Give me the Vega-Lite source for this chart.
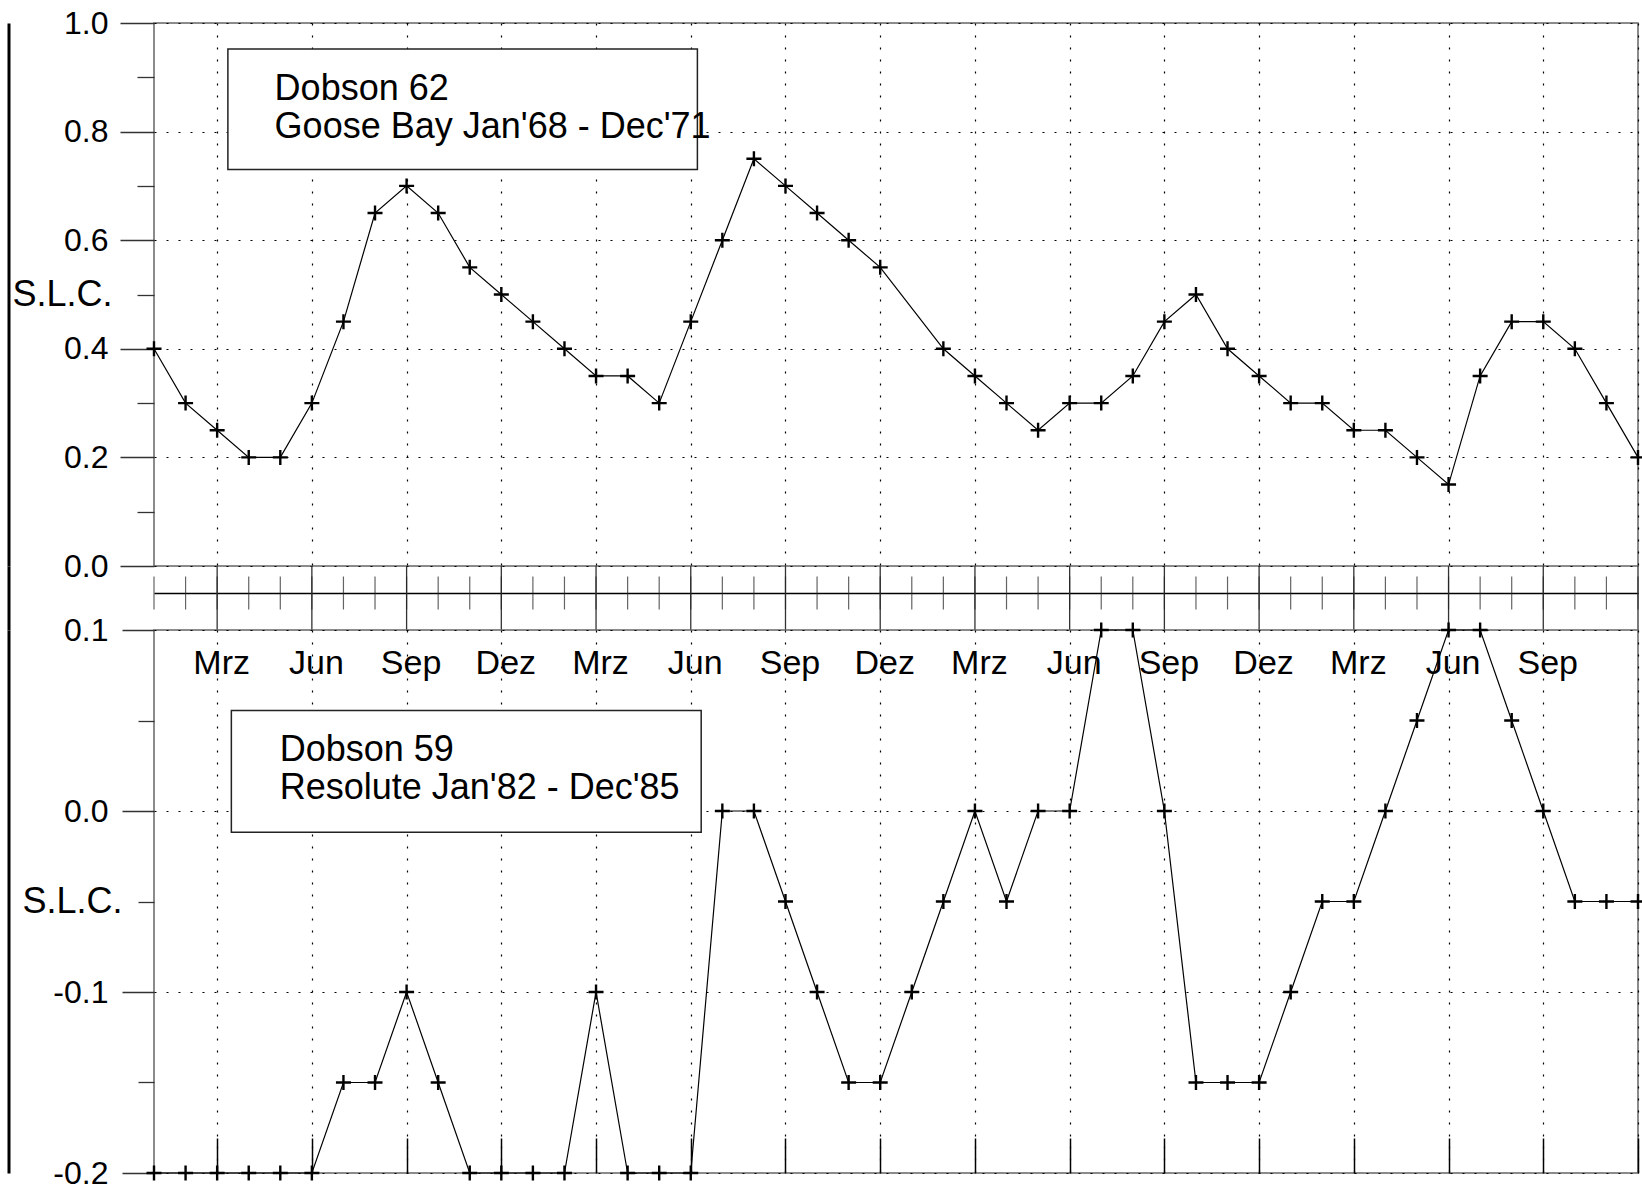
{
  "$schema": "https://vega.github.io/schema/vega-lite/v6.json",
  "padding": {"left": 7, "top": 6, "right": 0, "bottom": 0},
  "spacing": 0,
  "bounds": "flush",
  "config": {
    "font": "Liberation Sans",
    "view": {"stroke": "#666", "strokeWidth": 1.5},
    "axis": {"labelColor": "#000", "titleColor": "#000"}
  },
  "datasets": {
    "goose": [
      {"i": 0, "slc": 0.40}, {"i": 1, "slc": 0.30}, {"i": 2, "slc": 0.25}, {"i": 3, "slc": 0.20},
      {"i": 4, "slc": 0.20}, {"i": 5, "slc": 0.30}, {"i": 6, "slc": 0.45}, {"i": 7, "slc": 0.65},
      {"i": 8, "slc": 0.70}, {"i": 9, "slc": 0.65}, {"i": 10, "slc": 0.55}, {"i": 11, "slc": 0.50},
      {"i": 12, "slc": 0.45}, {"i": 13, "slc": 0.40}, {"i": 14, "slc": 0.35}, {"i": 15, "slc": 0.35},
      {"i": 16, "slc": 0.30}, {"i": 17, "slc": 0.45}, {"i": 18, "slc": 0.60}, {"i": 19, "slc": 0.75},
      {"i": 20, "slc": 0.70}, {"i": 21, "slc": 0.65}, {"i": 22, "slc": 0.60}, {"i": 23, "slc": 0.55},
      {"i": 25, "slc": 0.40}, {"i": 26, "slc": 0.35}, {"i": 27, "slc": 0.30},
      {"i": 28, "slc": 0.25}, {"i": 29, "slc": 0.30}, {"i": 30, "slc": 0.30}, {"i": 31, "slc": 0.35},
      {"i": 32, "slc": 0.45}, {"i": 33, "slc": 0.50}, {"i": 34, "slc": 0.40}, {"i": 35, "slc": 0.35},
      {"i": 36, "slc": 0.30}, {"i": 37, "slc": 0.30}, {"i": 38, "slc": 0.25}, {"i": 39, "slc": 0.25},
      {"i": 40, "slc": 0.20}, {"i": 41, "slc": 0.15}, {"i": 42, "slc": 0.35}, {"i": 43, "slc": 0.45},
      {"i": 44, "slc": 0.45}, {"i": 45, "slc": 0.40}, {"i": 46, "slc": 0.30}, {"i": 47, "slc": 0.20}
    ],
    "resolute": [
      {"i": 0, "slc": -0.2}, {"i": 1, "slc": -0.2}, {"i": 2, "slc": -0.2}, {"i": 3, "slc": -0.2},
      {"i": 4, "slc": -0.2}, {"i": 5, "slc": -0.2}, {"i": 6, "slc": -0.15}, {"i": 7, "slc": -0.15},
      {"i": 8, "slc": -0.1}, {"i": 9, "slc": -0.15}, {"i": 10, "slc": -0.2}, {"i": 11, "slc": -0.2},
      {"i": 12, "slc": -0.2}, {"i": 13, "slc": -0.2}, {"i": 14, "slc": -0.1}, {"i": 15, "slc": -0.2},
      {"i": 16, "slc": -0.2}, {"i": 17, "slc": -0.2}, {"i": 18, "slc": 0.0}, {"i": 19, "slc": 0.0},
      {"i": 20, "slc": -0.05}, {"i": 21, "slc": -0.1}, {"i": 22, "slc": -0.15}, {"i": 23, "slc": -0.15},
      {"i": 24, "slc": -0.1}, {"i": 25, "slc": -0.05}, {"i": 26, "slc": 0.0}, {"i": 27, "slc": -0.05},
      {"i": 28, "slc": 0.0}, {"i": 29, "slc": 0.0}, {"i": 30, "slc": 0.1}, {"i": 31, "slc": 0.1},
      {"i": 32, "slc": 0.0}, {"i": 33, "slc": -0.15}, {"i": 34, "slc": -0.15}, {"i": 35, "slc": -0.15},
      {"i": 36, "slc": -0.1}, {"i": 37, "slc": -0.05}, {"i": 38, "slc": -0.05}, {"i": 39, "slc": 0.0},
      {"i": 40, "slc": 0.05}, {"i": 41, "slc": 0.1}, {"i": 42, "slc": 0.1}, {"i": 43, "slc": 0.05},
      {"i": 44, "slc": 0.0}, {"i": 45, "slc": -0.05}, {"i": 46, "slc": -0.05}, {"i": 47, "slc": -0.05}
    ]
  },
  "vconcat": [
    {
      "width": 1484,
      "height": 543,
      "layer": [
        {
          "data": {"name": "goose"},
          "mark": {"type": "line", "color": "#000", "strokeWidth": 1.2},
          "encoding": {
            "x": {"field": "i", "type": "quantitative",
              "scale": {"domain": [0, 47], "nice": false, "zero": false},
              "axis": {"orient": "bottom", "values": [2, 5, 8, 11, 14, 17, 20, 23, 26, 29, 32, 35, 38, 41, 44, 47],
                "domain": false, "labels": false, "ticks": false, "grid": true,
                "gridDash": [2, 10], "gridColor": "#000", "gridWidth": 1.2, "title": null}},
            "y": {"field": "slc", "type": "quantitative",
              "scale": {"domain": [0, 1], "nice": false, "zero": false},
              "axis": {"orient": "left", "values": [0, 0.1, 0.2, 0.3, 0.4, 0.5, 0.6, 0.7, 0.8, 0.9, 1],
                "domain": false, "title": null,
                "labelExpr": "round(datum.value*10) == 5 ? 'S.L.C.' : (round(datum.value*10) % 2 == 0 ? format(datum.value, '.1f') : '')",
                "labelFontSize": {"condition": {"test": "round(datum.value*10) == 5", "value": 36}, "value": 32},
                "labelFont": "Liberation Sans", "labelOverlap": false, "labelFlush": false,
                "tickColor": "#333", "tickWidth": 1.3,
                "tickSize": {"condition": {"test": "round(datum.value*10) % 2 == 0", "value": 34}, "value": 17},
                "labelPadding": {"condition": {"test": "round(datum.value*10) == 5", "value": 25}, "value": 12},
                "grid": true, "gridDash": [2, 10], "gridColor": "#000", "gridWidth": 1.2,
                "gridOpacity": {"condition": {"test": "round(datum.value*10) % 2 != 0", "value": 0}, "value": 1}}}
          }
        },
        {
          "data": {"values": [{}]},
          "mark": {"type": "rect", "fill": "#fff", "stroke": "#222", "strokeWidth": 1.5},
          "encoding": {
            "x": {"datum": 2.34, "type": "quantitative"},
            "x2": {"datum": 17.21},
            "y": {"datum": 0.952, "type": "quantitative", "axis": null},
            "y2": {"datum": 0.73}
          }
        },
        {
          "data": {"values": [{}]},
          "mark": {"type": "text", "align": "left", "baseline": "alphabetic", "fontSize": 36, "lineHeight": 38, "font": "Liberation Sans", "color": "#000"},
          "encoding": {
            "x": {"datum": 3.82, "type": "quantitative"},
            "y": {"datum": 0.858, "type": "quantitative", "axis": null},
            "text": {"value": ["Dobson 62", "Goose Bay Jan'68 - Dec'71"]}
          }
        },
        {
          "data": {"name": "goose"},
          "mark": {"type": "point", "shape": "M-1,0L1,0M0,-1L0,1", "filled": false, "stroke": "#000", "strokeWidth": 2.4, "size": 225, "opacity": 1},
          "encoding": {
            "x": {"field": "i", "type": "quantitative"},
            "y": {"field": "slc", "type": "quantitative",
              "axis": {"orient": "left", "offset": 145.5, "domain": true, "domainWidth": 3, "domainColor": "#000",
                "ticks": false, "labels": false, "grid": false, "title": null}}
          }
        }
      ],
      "resolve": {"axis": {"y": "independent"}}
    },
    {
      "width": 1484,
      "height": 64,
      "view": {"stroke": null},
      "layer": [
        {
          "data": {"name": "resolute"},
          "transform": [{"filter": "datum.i % 3 == 2"}],
          "mark": {"type": "rule", "color": "#333", "strokeWidth": 1.3},
          "encoding": {
            "x": {"field": "i", "type": "quantitative",
              "scale": {"domain": [0, 47], "nice": false, "zero": false},
              "axis": {"orient": "bottom", "values": [2, 5, 8, 11, 14, 17, 20, 23, 26, 29, 32, 35, 38, 41, 44],
                "labelExpr": "['Jan','Feb','Mrz','Apr','Mai','Jun','Jul','Aug','Sep','Okt','Nov','Dez'][datum.value % 12]",
                "domain": false, "ticks": false, "tickSize": 0, "grid": false,
                "labelPadding": 43, "labelBaseline": "alphabetic", "labelFontSize": 34,
                "labelFont": "Liberation Sans", "labelOffset": 4,
                "labelFlush": false, "labelOverlap": false, "title": null}}
          }
        },
        {
          "data": {"name": "resolute"},
          "mark": {"type": "tick", "orient": "vertical", "size": 33, "thickness": 1.2, "color": "#222", "yOffset": -5},
          "encoding": {
            "x": {"field": "i", "type": "quantitative",
              "axis": {"orient": "top", "offset": -27, "domain": true, "domainColor": "#000", "domainWidth": 1.3,
                "ticks": false, "labels": false, "grid": false, "title": null}},
            "y": {"datum": 0, "type": "quantitative",
              "scale": {"domain": [-1, 1], "nice": false},
              "axis": {"orient": "left", "offset": 145.5, "domain": true, "domainWidth": 3, "domainColor": "#000",
                "ticks": false, "labels": false, "grid": false, "title": null}}
          }
        }
      ],
      "resolve": {"axis": {"x": "independent"}}
    },
    {
      "width": 1484,
      "height": 543,
      "layer": [
        {
          "data": {"name": "resolute"},
          "mark": {"type": "line", "color": "#000", "strokeWidth": 1.2},
          "encoding": {
            "x": {"field": "i", "type": "quantitative",
              "scale": {"domain": [0, 47], "nice": false, "zero": false},
              "axis": {"orient": "bottom", "values": [2, 5, 8, 11, 14, 17, 20, 23, 26, 29, 32, 35, 38, 41, 44, 47],
                "domain": false, "labels": false, "ticks": true, "tickSize": -35, "tickColor": "#000", "tickWidth": 1.5,
                "grid": true, "gridDash": [2, 10], "gridColor": "#000", "gridWidth": 1.2, "title": null}},
            "y": {"field": "slc", "type": "quantitative",
              "scale": {"domain": [-0.2, 0.1], "nice": false, "zero": false},
              "axis": {"orient": "left", "values": [-0.2, -0.15, -0.1, -0.05, 0, 0.05, 0.1],
                "domain": false, "title": null,
                "labelExpr": "round(datum.value*20) == -1 ? 'S.L.C.' : (round(datum.value*20) % 2 == 0 ? replace(format(datum.value, '.1f'), '\u2212', '-') : '')",
                "labelFontSize": {"condition": {"test": "round(datum.value*20) == -1", "value": 36}, "value": 32},
                "labelFont": "Liberation Sans", "labelOverlap": false, "labelFlush": false,
                "tickColor": "#333", "tickWidth": 1.3,
                "tickSize": {"condition": {"test": "round(datum.value*20) % 2 == 0", "value": 32}, "value": 16},
                "labelPadding": {"condition": {"test": "round(datum.value*20) == -1", "value": 16}, "value": 14},
                "grid": true, "gridDash": [2, 10], "gridColor": "#000", "gridWidth": 1.2,
                "gridOpacity": {"condition": {"test": "round(datum.value*20) % 2 != 0", "value": 0}, "value": 1}}}
          }
        },
        {
          "data": {"values": [{}]},
          "mark": {"type": "rect", "fill": "#fff", "stroke": "#222", "strokeWidth": 1.5},
          "encoding": {
            "x": {"datum": 2.45, "type": "quantitative"},
            "x2": {"datum": 17.33},
            "y": {"datum": 0.0555, "type": "quantitative", "axis": null},
            "y2": {"datum": -0.0118}
          }
        },
        {
          "data": {"values": [{}]},
          "mark": {"type": "text", "align": "left", "baseline": "alphabetic", "fontSize": 36, "lineHeight": 38, "font": "Liberation Sans", "color": "#000"},
          "encoding": {
            "x": {"datum": 3.98, "type": "quantitative"},
            "y": {"datum": 0.0278, "type": "quantitative", "axis": null},
            "text": {"value": ["Dobson 59", "Resolute Jan'82 - Dec'85"]}
          }
        },
        {
          "data": {"name": "resolute"},
          "mark": {"type": "point", "shape": "M-1,0L1,0M0,-1L0,1", "filled": false, "stroke": "#000", "strokeWidth": 2.4, "size": 225, "opacity": 1},
          "encoding": {
            "x": {"field": "i", "type": "quantitative"},
            "y": {"field": "slc", "type": "quantitative",
              "axis": {"orient": "left", "offset": 145.5, "domain": true, "domainWidth": 3, "domainColor": "#000",
                "ticks": false, "labels": false, "grid": false, "title": null}}
          }
        }
      ],
      "resolve": {"axis": {"y": "independent"}}
    }
  ]
}
